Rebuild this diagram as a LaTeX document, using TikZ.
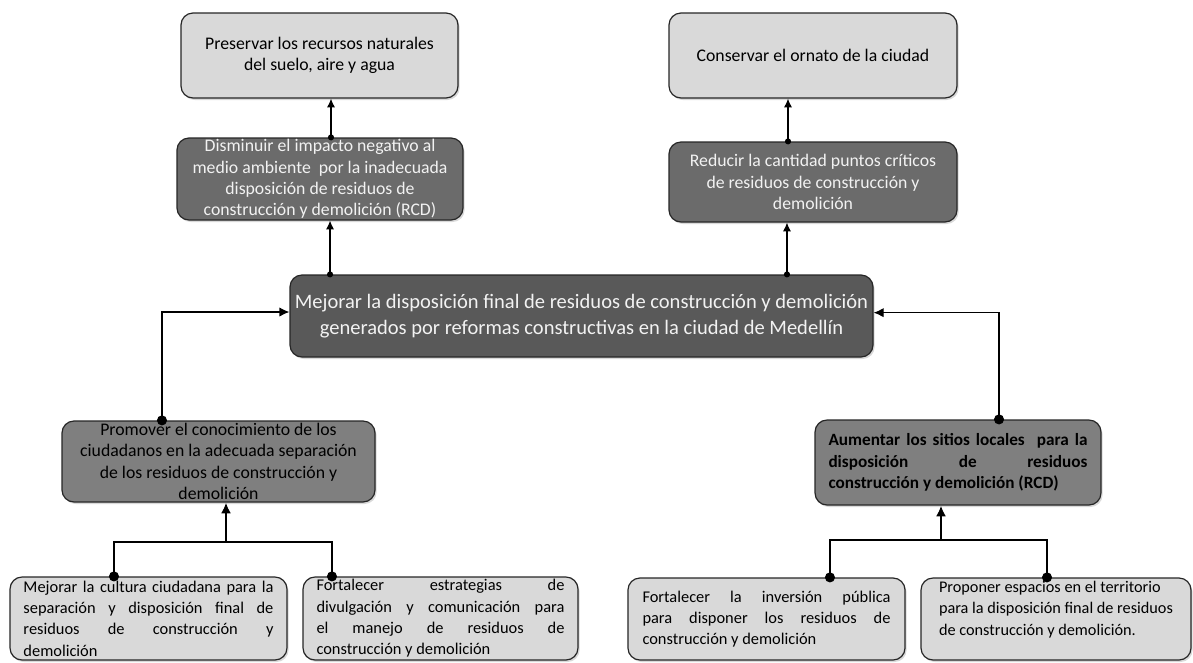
\documentclass[tikz,border=0pt]{standalone}
\usepackage{fontspec}
\setmainfont{Carlito}
\usetikzlibrary{arrows.meta}
\usetikzlibrary{shadows}

\definecolor{lightbox}{HTML}{D9D9D9}
\definecolor{darkbox}{HTML}{6B6B6B}
\definecolor{mainbox}{HTML}{595959}
\definecolor{midbox}{HTML}{7F7F7F}
\definecolor{boxline}{HTML}{262626}

\begin{document}
\begin{tikzpicture}[
    x=0.75pt, y=-0.75pt,
    every node/.style={font=\fontsize{13.3}{16}\selectfont},
    box/.style={rectangle, draw=boxline, line width=0.9pt, rounded corners=9pt, inner xsep=3pt, inner ysep=0pt,
        drop shadow={opacity=0.3, shadow xshift=1.2pt, shadow yshift=-1.5pt}},
    light/.style={box, fill=lightbox, text=black},
    dark/.style={box, fill=darkbox, text=white!95!black},
    mid/.style={box, fill=midbox, text=black},
    leaf/.style={light, align=justify, font=\fontsize{12.3}{16}\selectfont},
    smallup/.style={{Circle[length=4.5pt]}-{Latex[length=6.5pt, width=6pt]}, line width=0.9pt, shorten <=-2.25pt},
    bigup/.style={{Circle[length=7.5pt]}-{Latex[length=7.5pt, width=7pt]}, line width=0.9pt, shorten <=-3.75pt},
    fork/.style={{Circle[length=7.5pt]}-{Circle[length=7.5pt]}, line width=0.9pt, shorten <=-3.75pt, shorten >=-3.75pt},
    stem/.style={-{Latex[length=8pt, width=7.5pt]}, line width=2pt}
]
\useasboundingbox (0,0) rectangle (1193,662);

% Nodes
\node[light, minimum width=207.75pt, minimum height=63.75pt, align=center] (preservar) at (319.5,55.5)
    {Preservar los recursos naturales\\del suelo, aire y agua};
\node[dark, minimum width=214.5pt, minimum height=61.5pt, align=center] (disminuir) at (320,179)
    {Disminuir el impacto negativo al\\medio ambiente \ por la inadecuada\\disposición de residuos de\\construcción y demolición (RCD)};
\node[light, minimum width=216pt, minimum height=63.75pt, align=center] (conservar) at (813,55.5)
    {Conservar el ornato de la ciudad};
\node[dark, minimum width=216pt, minimum height=60pt, align=center] (reducir) at (813,182)
    {Reducir la cantidad puntos críticos\\de residuos de construcción y\\demolición};
\node[box, fill=mainbox, text=white!95!black, minimum width=437.25pt, minimum height=61.5pt, align=center,
    font=\fontsize{15.4}{20}\selectfont] (mejorar) at (581.5,316)
    {Mejorar la disposición final de residuos de construcción y demolición\\generados por reformas constructivas en la ciudad de Medellín};
\node[mid, minimum width=234.75pt, minimum height=60.75pt, align=center] (promover) at (218.5,461.5)
    {Promover el conocimiento de los\\ciudadanos en la adecuada separación\\de los residuos de construcción y\\demolición};
\node[mid, text width=194.25pt, inner xsep=10.1pt, minimum height=63.75pt, align=justify,
    font=\fontsize{12.9}{16}\selectfont\bfseries] (aumentar) at (958,462.5)
    {Aumentar los sitios locales \ para la\linebreak disposición de residuos\linebreak construcción y demolición (RCD)};
\node[leaf, text width=187.5pt, inner xsep=10.1pt, minimum height=62.25pt] (cultura) at (148.5,618.5)
    {Mejorar la cultura ciudadana para la\linebreak separación y disposición final de\linebreak residuos de construcción y\linebreak demolición};
\node[leaf, text width=186pt, inner xsep=10.1pt, minimum height=62.25pt] (estrategias) at (440.5,618.5)
    {Fortalecer estrategias de\linebreak divulgación y comunicación para\linebreak el manejo de residuos de\linebreak construcción y demolición};
\node[leaf, text width=186pt, inner xsep=10.9pt, minimum height=61.5pt] (inversion) at (766.5,619)
    {Fortalecer la inversión pública\linebreak para disponer los residuos de\linebreak construcción y demolición};
\node[light, minimum width=202.5pt, minimum height=61.5pt, align=left, font=\fontsize{12.2}{16}\selectfont] (espacios) at (1056,619)
    {Proponer espacios en el territorio\\para la disposición final de residuos\\de construcción y demolición.\\\mbox{}};

\coordinate (forkLeft) at (226,542);
\coordinate (forkRight) at (941,540);

% Edges
\draw[smallup] ([xshift=-188.6pt]mejorar.north) -- ([xshift=-188.6pt]mejorar.north |- disminuir.south);
\draw[smallup] ([xshift=8.25pt]disminuir.north) -- ([xshift=8.25pt]disminuir.north |- preservar.south);
\draw[smallup] ([xshift=154.1pt]mejorar.north) -- ([xshift=154.1pt]mejorar.north |- reducir.south);
\draw[smallup] ([xshift=-18.75pt]reducir.north) -- ([xshift=-18.75pt]reducir.north |- conservar.south);
\draw[bigup] ([xshift=-42.4pt]promover.north) |- ([yshift=3pt]mejorar.west);
\draw[bigup] ([xshift=30.75pt]aumentar.north) |- ([yshift=2.5pt]mejorar.east);
\draw[fork] ([xshift=-25.9pt]cultura.north) |- (forkLeft) -| ([xshift=-81.4pt]estrategias.north);
\draw[stem] (forkLeft) -- (forkLeft |- promover.south);
\draw[fork] ([xshift=47.6pt]inversion.north) |- (forkRight) -| ([xshift=-6.75pt]espacios.north);
\draw[stem] (forkRight) -- (forkRight |- aumentar.south);

\end{tikzpicture}
\end{document}
